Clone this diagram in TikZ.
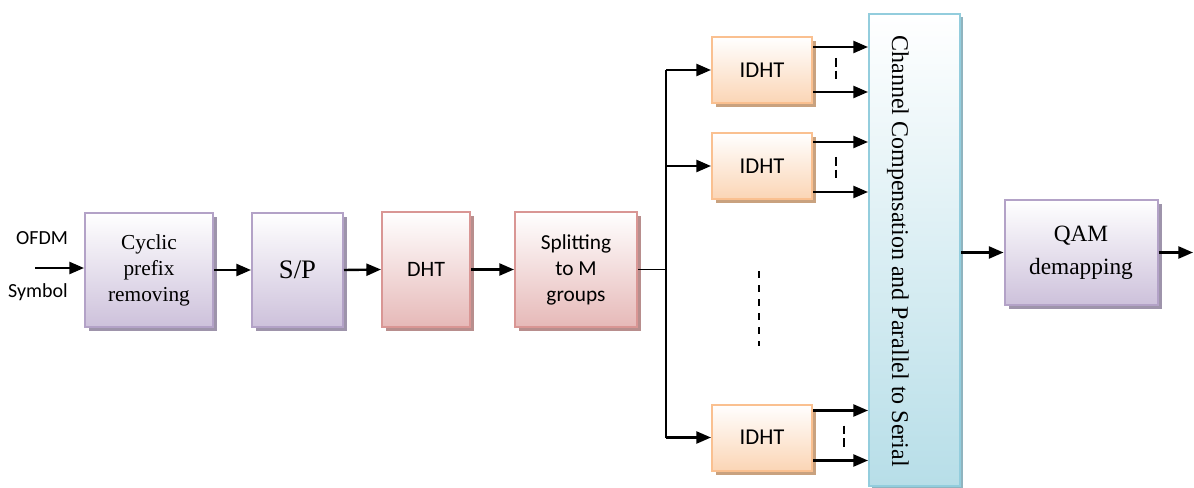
\documentclass[tikz,border=0pt]{standalone}
\usepackage{fontspec}
\setmainfont{Liberation Serif}
\setsansfont{Carlito}
\usetikzlibrary{arrows.meta,shadows,calc}

\definecolor{lilacedge}{HTML}{B3A2C7}
\definecolor{lilac}{HTML}{CDC1DB}
\definecolor{lilacshade}{HTML}{9E94AB}
\definecolor{roseedge}{HTML}{D99694}
\definecolor{rose}{HTML}{E6B9B8}
\definecolor{roseshade}{HTML}{B88E8D}
\definecolor{peachedge}{HTML}{FAC090}
\definecolor{peach}{HTML}{FBD5B5}
\definecolor{peachshade}{HTML}{C9A27F}
\definecolor{skyedge}{HTML}{93CDDD}
\definecolor{sky}{HTML}{B7DEE8}
\definecolor{skyshade}{HTML}{8FB4BF}

\begin{document}
\begin{tikzpicture}[x=0.75pt,y=-0.75pt,
    arr/.style={line width=1.8pt,-{Triangle[length=11pt,width=9pt]}},
    block/.style={line width=1.5pt,top color=white,inner sep=0pt,align=center},
    lilacbox/.style={block,draw=lilacedge,bottom color=lilac,
        drop shadow={fill=lilacshade,opacity=1,shadow xshift=3pt,shadow yshift=-3pt}},
    rosebox/.style={block,draw=roseedge,bottom color=rose,
        drop shadow={fill=roseshade,opacity=1,shadow xshift=3pt,shadow yshift=-3pt}},
    peachbox/.style={block,draw=peachedge,bottom color=peach,
        minimum width=75pt,minimum height=49.5pt,
        drop shadow={fill=peachshade,opacity=1,shadow xshift=3pt,shadow yshift=-3pt}},
    skybox/.style={block,draw=skyedge,bottom color=sky,
        drop shadow={fill=skyshade,opacity=1,shadow xshift=2.5pt,shadow yshift=-2.5pt}},
    serif/.style={font=\rmfamily\fontsize{16}{19.5}\selectfont},
    sans/.style={font=\sffamily\fontsize{16}{19.5}\selectfont},
    gapmark/.style={line width=1.5pt,dash pattern=on 6.5pt off 3pt}]

    \useasboundingbox (0,0) rectangle (1194,488);

    % receiver chain
    \node[lilacbox,serif,minimum width=96pt,minimum height=85.5pt] (cp) at (149,270) {Cyclic\\prefix\\removing};
    \node[lilacbox,font=\rmfamily\fontsize{20}{24}\selectfont,minimum width=68.25pt,minimum height=85.5pt] (sp) at (297.5,270) {S/P};
    \node[rosebox,sans,font=\sffamily\fontsize{16.5}{19.5}\selectfont,minimum width=66pt,minimum height=86.25pt] (dht) at (426,269.5) {DHT};
    \node[rosebox,sans,minimum width=91.5pt,minimum height=86.25pt] (split) at (576,269.5) {Splitting\\to M\\groups};

    % IDHT branches
    \node[peachbox,font=\sffamily\fontsize{17}{20}\selectfont] (idht1) at (762,70) {IDHT};
    \node[peachbox,font=\sffamily\fontsize{17}{20}\selectfont] (idht2) at (762,166) {IDHT};
    \node[peachbox,font=\sffamily\fontsize{17}{20}\selectfont] (idht3) at (762,437.5) {IDHT};

    % compensation and output
    \node[skybox,minimum width=68.25pt,minimum height=354pt] (chan) at (914.5,250) {};
    \node[rotate=-90,font=\rmfamily\fontsize{18}{21}\selectfont] (chantxt) at (898,251) {Channel Compensation and Parallel to Serial};
    \node[lilacbox,font=\rmfamily\fontsize{17.5}{24.5}\selectfont,minimum width=114.75pt,minimum height=78.75pt] (qam) at (1081,252.5) {QAM\\demapping};

    \node[font=\sffamily\fontsize{15}{18}\selectfont] (ofdm) at (42,238) {OFDM};
    \node[font=\sffamily\fontsize{15}{18}\selectfont] (sym) at (38,292) {Symbol};

    \coordinate (src) at (35,268);
    \coordinate (bus) at (666,268);
    \coordinate (sink) at (1193,257);

    \draw[arr] (src) -- (src -| cp.west); % input
    \draw[arr] (cp.east) -- (sp.west); % cp-sp
    \draw[arr] (sp.east) -- (dht.west); % sp-dht
    \draw[arr] (dht.east) -- (split.west); % dht-split
    \draw[line width=0.9pt] (split.east) -- (bus |- split.east); % split-bus
    \draw[line width=1.8pt] (bus |- idht1.west) -- (bus |- idht3.west); % bus
    \draw[arr] (bus |- idht1.west) -- (idht1.west); % bus-idht1
    \draw[arr] (bus |- idht2.west) -- (idht2.west); % bus-idht2
    \draw[arr] (bus |- idht3.west) -- (idht3.west); % bus-idht3

    \coordinate (o1a) at ($(idht1.east)+(0,-23)$);
    \coordinate (o1b) at ($(idht1.east)+(0,22)$);
    \coordinate (o2a) at ($(idht2.east)+(0,-24)$);
    \coordinate (o2b) at ($(idht2.east)+(0,26)$);
    \coordinate (o3a) at ($(idht3.east)+(0,-27)$);
    \coordinate (o3b) at ($(idht3.east)+(0,23)$);
    \draw[arr] (o1a) -- (o1a -| chan.west); % idht1 first
    \draw[arr] (o1b) -- (o1b -| chan.west); % idht1 last
    \draw[arr] (o2a) -- (o2a -| chan.west); % idht2 first
    \draw[arr] (o2b) -- (o2b -| chan.west); % idht2 last
    \draw[arr] (o3a) -- (o3a -| chan.west); % idht3 first
    \draw[arr] (o3b) -- (o3b -| chan.west); % idht3 last

    % skipped outputs and branches
    \draw[gapmark] ($(idht1.east)+(23,-12)$) -- ($(idht1.east)+(23,9)$);
    \draw[gapmark] ($(idht2.east)+(23,-9)$) -- ($(idht2.east)+(23,12)$);
    \draw[gapmark] ($(idht3.east)+(31,-12)$) -- ($(idht3.east)+(31,9)$);
    \draw[line width=1.5pt,dash pattern=on 5.25pt off 5.25pt] (759,271) -- (759,346);

    \draw[arr] (chan.east |- qam.west) -- (qam.west); % chan-qam
    \draw[arr] (qam.east) -- (qam.east -| sink); % output
\end{tikzpicture}
\end{document}
